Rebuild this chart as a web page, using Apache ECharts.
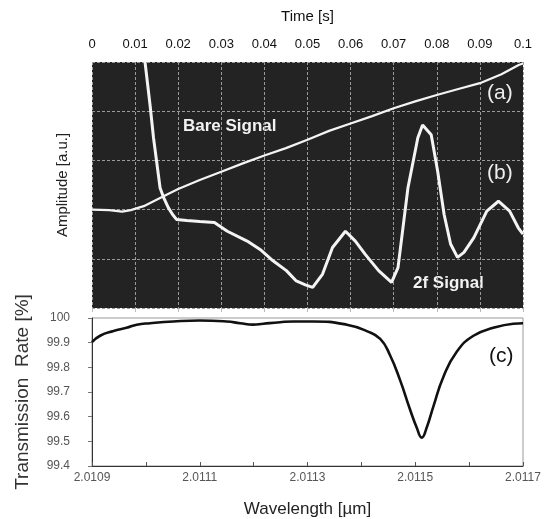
<!DOCTYPE html>
<html><head><meta charset="utf-8">
<script src="https://cdn.jsdelivr.net/npm/echarts@6/dist/echarts.min.js"></script>
<style>html,body{margin:0;padding:0;background:#fff}#c{width:550px;height:519px}</style>
</head><body><div id="c"></div>
<script>
// Top panel: time [s] vs amplitude [a.u.]
const timeTicks = [0,0.01,0.02,0.03,0.04,0.05,0.06,0.07,0.08,0.09,0.1];
const bareT = [0,0.004,0.007,0.009,0.012,0.0166,0.02,0.025,0.03,0.035,0.04,0.045,0.05,0.055,0.06,0.065,0.07,0.075,0.08,0.085,0.09,0.095,0.099,0.1];
const bareA = [2.0,1.99,1.96,1.99,2.07,2.27,2.42,2.6,2.77,2.94,3.1,3.25,3.42,3.6,3.75,3.9,4.06,4.2,4.33,4.45,4.57,4.75,4.94,4.97];
const f2T = [0.0118,0.0123,0.0135,0.01427,0.0158,0.0166,0.0177,0.0187,0.0196,0.022,0.025,0.0284,0.0314,0.036,0.039,0.042,0.0451,0.0474,0.0495,0.0512,0.0535,0.0558,0.0588,0.0611,0.0634,0.0665,0.0695,0.071,0.0733,0.0756,0.0767,0.0787,0.0802,0.0817,0.0832,0.0848,0.0863,0.0886,0.0916,0.0943,0.0969,0.0989,0.1];
const f2A = [6.0,5.0,4.1,3.46,2.44,2.25,2.04,1.9,1.80,1.78,1.76,1.74,1.56,1.36,1.19,0.96,0.76,0.55,0.47,0.42,0.69,1.23,1.56,1.36,1.09,0.76,0.52,0.82,2.44,3.46,3.72,3.52,2.78,1.90,1.30,1.03,1.13,1.43,1.97,2.17,1.97,1.63,1.5];
// Bottom panel: wavelength [um] vs transmission rate [%]
const waveTicks = [2.0109,2.0111,2.0113,2.0115,2.0117];
const rateTicks = [99.4,99.5,99.6,99.7,99.8,99.9,100];
const wl = [2.0109,2.010915,2.01094,2.010964,2.010983,2.011008,2.011051,2.0111,2.01115,2.011175,2.011199,2.011218,2.011249,2.011274,2.011311,2.011373,2.01141,2.011435,2.011453,2.011472,2.01149,2.011503,2.011512,2.011521,2.011534,2.011552,2.011577,2.011608,2.011645,2.011682,2.0117];
const rate = [99.902,99.928,99.947,99.96,99.973,99.979,99.986,99.99,99.986,99.979,99.973,99.977,99.983,99.986,99.986,99.973,99.947,99.915,99.85,99.747,99.631,99.554,99.515,99.554,99.644,99.76,99.863,99.928,99.96,99.977,99.979];

const FONT = '"Liberation Sans", Arial, sans-serif';
const chart = echarts.init(document.getElementById('c'), null, {renderer:'canvas'});
const z = (a,b)=>a.map((v,i)=>[v,b[i]]);
const waveLabel = v => {
  const s = v.toFixed(4);
  return waveTicks.some(t => t.toFixed(4) === s) ? s : '';
};
chart.setOption({
  animation:false,
  textStyle:{fontFamily:FONT},
  grid:[
    {left:92, top:62, width:431, height:246, show:true, backgroundColor:'#232323', borderWidth:0},
    {left:92, top:318, width:431, height:155, show:true, backgroundColor:'#fff', borderColor:'#999', borderWidth:1}
  ],
  xAxis:[
    {gridIndex:0, type:'value', position:'top', min:0, max:0.1, interval:0.01,
     name:'Time [s]', nameLocation:'middle', nameGap:38,
     nameTextStyle:{fontSize:15, color:'#111', fontFamily:FONT},
     axisLine:{show:false},
     axisTick:{show:true, inside:true, length:4, lineStyle:{color:'#bbb'}},
     axisLabel:{fontSize:13, color:'#111', margin:11, formatter:v=>String(parseFloat(v.toFixed(2)))},
     splitLine:{show:true, lineStyle:{color:'#9a9a9a', type:[3,2], width:1}}},
    {gridIndex:1, type:'value', min:2.0109, max:2.0117, interval:0.0001,
     name:'Wavelength [\u00b5m]', nameLocation:'middle', nameGap:35,
     nameTextStyle:{fontSize:17, color:'#222', fontFamily:FONT},
     axisLine:{show:true, onZero:false, lineStyle:{color:'#333', width:1}},
     axisTick:{show:true, inside:true, length:4, lineStyle:{color:'#555'}},
     axisLabel:{fontSize:12, color:'#555', margin:6, formatter:waveLabel},
     splitLine:{show:false}}
  ],
  yAxis:[
    {gridIndex:0, type:'value', min:0, max:5, interval:1,
     name:'Amplitude [a.u.]', nameLocation:'middle', nameGap:22, nameRotate:90,
     nameTextStyle:{fontSize:15, color:'#222', fontFamily:FONT},
     axisLine:{show:false}, axisTick:{show:false}, axisLabel:{show:false},
     splitLine:{show:true, lineStyle:{color:'#9a9a9a', type:[3,2], width:1}}},
    {gridIndex:1, type:'value', min:99.4, max:100, interval:0.1,
     name:'Transmission  Rate [%]', nameLocation:'middle', nameGap:60, nameRotate:90,
     nameTextStyle:{fontSize:19, color:'#333', fontFamily:FONT},
     axisLine:{show:true, onZero:false, lineStyle:{color:'#333', width:1}},
     axisTick:{show:true, length:4, lineStyle:{color:'#777'}},
     axisLabel:{fontSize:12, color:'#555', margin:22, formatter:v=>Math.abs(v-100)<1e-9?'100':v.toFixed(1)},
     splitLine:{show:false}}
  ],
  series:[
    {type:'line', xAxisIndex:0, yAxisIndex:0, data:z(bareT,bareA), showSymbol:false, smooth:false,
     lineStyle:{color:'#f4f4f4', width:2.2}, clip:true},
    {type:'line', xAxisIndex:0, yAxisIndex:0, data:z(f2T,f2A), showSymbol:false, smooth:false,
     lineStyle:{color:'#f4f4f4', width:3}, clip:true},
    {type:'line', xAxisIndex:1, yAxisIndex:1, data:z(wl,rate), showSymbol:false, smooth:true,
     lineStyle:{color:'#111', width:2.6}, clip:true}
  ],
  graphic:[
    {type:'text', left:183, top:118, style:{text:'Bare Signal', fill:'#f2f2f2', font:'bold 17px '+FONT}},
    {type:'text', left:413, top:275, style:{text:'2f Signal', fill:'#f2f2f2', font:'bold 17px '+FONT}},
    {type:'text', left:487, top:83, style:{text:'(a)', fill:'#eee', font:'21px '+FONT}},
    {type:'text', left:487, top:163, style:{text:'(b)', fill:'#eee', font:'21px '+FONT}},
    {type:'text', left:489, top:346, style:{text:'(c)', fill:'#111', font:'21px '+FONT}}
  ]
});
</script></body></html>
